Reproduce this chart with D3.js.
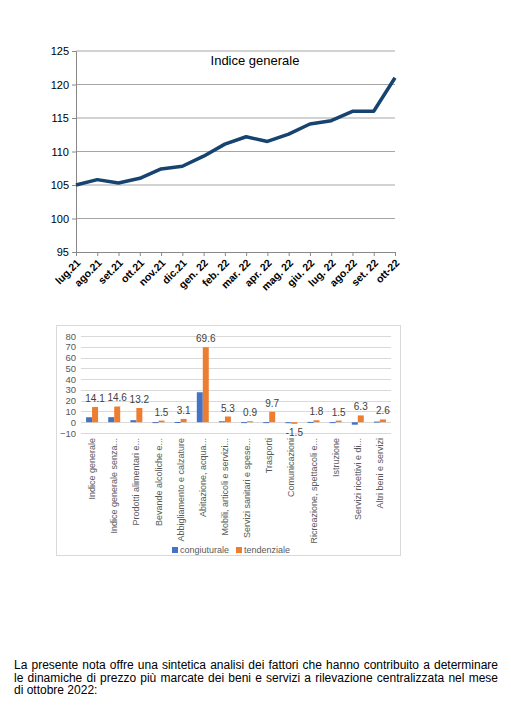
<!DOCTYPE html>
<html>
<head>
<meta charset="utf-8">
<script src="https://cdn.jsdelivr.net/npm/d3@7"></script>
<style>
  body { margin: 0; background: #fff; }
  #page { position: relative; width: 511px; height: 710px; }
  #nota { position: absolute; left: 14px; top: 659px; width: 484px; font: 12px "Liberation Sans", Arial, sans-serif; line-height: 12.5px; text-align: justify; color: #000; }
</style>
</head>
<body>
<div id="page">
  <svg id="chart" width="511" height="710"></svg>
  <div id="nota">La presente nota offre una sintetica analisi dei fattori che hanno contribuito a determinare le dinamiche di prezzo più marcate dei beni e servizi a rilevazione centralizzata nel mese di ottobre 2022:</div>
</div>
<script>
// line chart: Indice generale
var months = ["lug.21", "ago.21", "set.21", "ott.21", "nov.21", "dic.21", "gen. 22", "feb. 22",
              "mar. 22", "apr. 22", "mag. 22", "giu. 22", "lug. 22", "ago.22", "set. 22", "ott-22"];
var indice = [105.0, 105.8, 105.3, 106.0, 107.4, 107.8, 109.3, 111.1,
              112.2, 111.5, 112.6, 114.1, 114.6, 116.0, 116.0, 121.0];
var lineTicks = [95, 100, 105, 110, 115, 120, 125];

// bar chart: variazioni
var categorie = ["Indice generale", "Indice generale senza...", "Prodotti alimentari e...",
                 "Bevande alcoliche e...", "Abbigliamento e calzature", "Abitazione, acqua...",
                 "Mobili, articoli e servizi...", "Servizi sanitari e spese...", "Trasporti",
                 "Comunicazioni", "Ricreazione, spettacoli e...", "Istruzione",
                 "Servizi ricettivi e di...", "Altri beni e servizi"];
var congiunturale = [4.6, 4.7, 1.9, 0.1, 0.2, 27.8, 0.9, 0.1, 0.1, -0.3, 0.3, 0.1, -2.3, 0.6];
var tendenziale = [14.1, 14.6, 13.2, 1.5, 3.1, 69.6, 5.3, 0.9, 9.7, -1.5, 1.8, 1.5, 6.3, 2.6];
var serie = ["congiuturale", "tendenziale"];
var barTicks = [-10, 0, 10, 20, 30, 40, 50, 60, 70, 80];

var svg = d3.select("#chart");
var arial = "'Liberation Sans', Arial, sans-serif";

// ---- line chart ----
var x = d3.scalePoint().domain(months).range([76, 395]);
var y = d3.scaleLinear().domain([95, 125]).range([252, 51]);

var g1 = svg.append("g");
g1.selectAll("line.grid")
    .data(lineTicks.slice(1))
    .enter().append("line")
    .attr("x1", 76).attr("x2", 395)
    .attr("y1", d => y(d)).attr("y2", d => y(d))
    .attr("stroke", "#a6a6a6").attr("stroke-width", 1);

var yAx = g1.append("g").attr("transform", "translate(76,0)")
    .call(d3.axisLeft(y).tickValues(lineTicks).tickSize(4).tickPadding(3));
yAx.select(".domain").attr("stroke", "#888");
yAx.selectAll(".tick line").attr("stroke", "#888");
yAx.selectAll("text").attr("font-family", arial).attr("font-size", 11).attr("fill", "#000");

var xAx = g1.append("g").attr("transform", "translate(0,252)")
    .call(d3.axisBottom(x).tickSize(4).tickSizeOuter(0));
xAx.select(".domain").attr("stroke", "#888");
xAx.selectAll(".tick line").attr("stroke", "#888");
xAx.selectAll("text")
    .attr("font-family", arial).attr("font-size", 10.5).attr("font-weight", "bold").attr("fill", "#000")
    .attr("text-anchor", "end")
    .attr("y", 0)
    .attr("dy", "0.35em")
    .attr("transform", "translate(2,9) rotate(-45)");

g1.append("path")
    .datum(indice)
    .attr("fill", "none")
    .attr("stroke", "#174370")
    .attr("stroke-width", 3.5)
    .attr("stroke-linejoin", "round")
    .attr("d", d3.line().x((d, i) => x(months[i])).y(d => y(d)));

g1.append("text")
    .attr("x", 255).attr("y", 65)
    .attr("text-anchor", "middle")
    .attr("font-family", arial).attr("font-size", 13)
    .text("Indice generale");

// ---- bar chart ----
var g2 = svg.append("g");
g2.append("rect")
    .attr("x", 56.5).attr("y", 325.5).attr("width", 344).attr("height", 230)
    .attr("fill", "#fff").attr("stroke", "#d9d9d9");

var xb = d3.scaleBand().domain(categorie).range([81, 391]).paddingInner(0.46).paddingOuter(0.23);
var xs = d3.scaleBand().domain(serie).range([0, xb.bandwidth()]);
var yb = d3.scaleLinear().domain([-10, 80]).range([433, 336]);
var colori = d3.scaleOrdinal().domain(serie).range(["#4472c4", "#ed7d31"]);

g2.selectAll("line.grid")
    .data(barTicks)
    .enter().append("line")
    .attr("x1", 81).attr("x2", 391)
    .attr("y1", d => Math.round(yb(d)) + 0.5).attr("y2", d => Math.round(yb(d)) + 0.5)
    .attr("stroke", "#d9d9d9");

var ybAx = g2.append("g").attr("transform", "translate(79,0)")
    .call(d3.axisLeft(yb).tickValues(barTicks).tickSize(0).tickPadding(3));
ybAx.select(".domain").remove();
ybAx.selectAll("text").attr("font-family", arial).attr("font-size", 9.5).attr("fill", "#595959");

var righe = categorie.map((c, i) => ({ cat: c, valori: [congiunturale[i], tendenziale[i]] }));
var grp = g2.selectAll("g.cat")
    .data(righe)
    .enter().append("g")
    .attr("transform", d => "translate(" + xb(d.cat) + ",0)");

grp.selectAll("rect")
    .data(d => d.valori.map((v, j) => ({ s: serie[j], v: v })))
    .enter().append("rect")
    .attr("x", d => xs(d.s))
    .attr("width", xs.bandwidth())
    .attr("y", d => yb(Math.max(0, d.v)))
    .attr("height", d => Math.max(1, Math.abs(yb(d.v) - yb(0))))
    .attr("fill", d => colori(d.s));

// etichette tendenziale
g2.selectAll("text.val")
    .data(righe)
    .enter().append("text")
    .attr("x", d => xb(d.cat) + xs("tendenziale") + xs.bandwidth() / 2)
    .attr("y", d => d.valori[1] >= 0 ? yb(d.valori[1]) - 5 : yb(d.valori[1]) + 12)
    .attr("text-anchor", "middle")
    .attr("font-family", arial).attr("font-size", 10).attr("fill", "#404040")
    .text(d => d.valori[1].toFixed(1));

// etichette categorie
g2.selectAll("text.cat")
    .data(categorie)
    .enter().append("text")
    .attr("transform", d => "translate(" + (xb(d) + xb.bandwidth() / 2 + 3) + ",438) rotate(-90)")
    .attr("text-anchor", "end")
    .attr("font-family", arial).attr("font-size", 9).attr("fill", "#595959")
    .text(d => d);

// legenda
var leg = g2.selectAll("g.leg")
    .data(serie)
    .enter().append("g")
    .attr("transform", (d, i) => "translate(" + (172 + i * 64) + ",547)");
leg.append("rect").attr("width", 6).attr("height", 6).attr("fill", d => colori(d));
leg.append("text").attr("x", 8).attr("y", 6)
    .attr("font-family", arial).attr("font-size", 9).attr("fill", "#595959")
    .text(d => d);
</script>
</body>
</html>
